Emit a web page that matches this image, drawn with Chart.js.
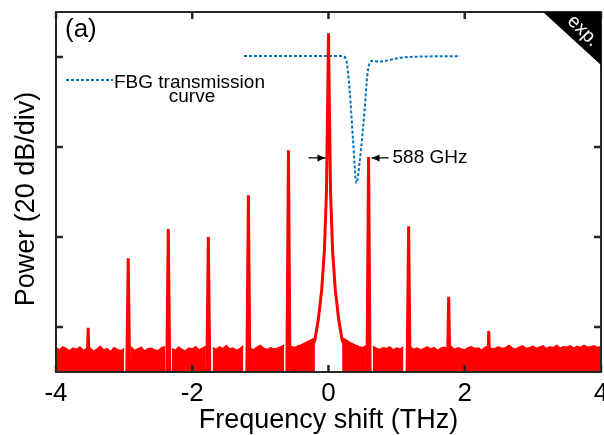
<!DOCTYPE html>
<html>
<head>
<meta charset="utf-8">
<script src="https://cdn.jsdelivr.net/npm/chart.js@4.4.0/dist/chart.umd.min.js"></script>
<style>
  html, body { margin: 0; padding: 0; background: #fff; }
</style>
</head>
<body>
<canvas id="spectrum" width="604" height="435"></canvas>
<script>
// axis ticks: frequency shift (THz) and power (dB, 20 dB per division)
const xTicks = [-4, -2, 0, 2, 4];
const yTicks = [-80, -60, -40, -20];

// comb lines, order -6..-1 and +1..+4, 588 GHz apart
const combFreq = [-3.528, -2.94, -2.352, -1.764, -1.176, -0.588, 0.588, 1.176, 1.764, 2.352];
const combPower = [-80.2, -64.7, -58.2, -60.0, -50.7, -40.7, -42.2, -57.6, -73.3, -80.9];

// central line with its skirt
const centerFreq = [-0.25, -0.2, -0.15, -0.1, -0.06, -0.03, -0.012, 0, 0.012, 0.03, 0.06, 0.1, 0.15, 0.2, 0.25];
const centerPower = [-84.7, -82.9, -78.4, -71.8, -62.9, -50.0, -30.0, -14.7, -30.0, -50.0, -62.9, -71.8, -78.4, -82.9, -84.7];

// noise floor on a 0.05 THz grid starting at -4 THz (null = gap beside a line)
const noiseStart = -4;
const noiseStep = 0.05;
const noisePower = [
  -84.6, -85.1, -84.4, -84.8, -85.3, -84.7, -85.0, -84.5, -85.2, -84.8,
  -84.7, -85.4, -84.9, -84.3, -85.1, -84.8, -85.5, -84.6, -85.0, -85.3,
  -84.8, null, -84.4, -85.2, -84.9, -84.5, -85.4, -84.8, -84.7, -85.1,
  -85.3, -84.6, -84.4, null, -84.8, -85.2, -84.5, -85.0, -85.3, -84.7,
  -84.9, -84.4, -85.1, -84.7, -84.3, null, -84.6, -85.0, -84.4, -84.8,
  -84.1, -84.9, -84.7, -85.2, -84.8, -84.2, null, -84.7, -85.1, -84.5,
  -84.1, -84.8, -85.0, -84.6, -84.9, -84.7, -84.4, -84.0, null, -84.3,
  -84.6, -84.2, -84.0, -83.6, -83.2, -82.8, -82.5, null, null, null,
  null, null, null, null, -82.4, -82.8, -83.3, -83.7, -84.1, -84.4,
  -84.6, -84.2, null, -84.3, -84.7, -85.0, -84.6, -84.8, -84.4, -85.1,
  -84.7, -84.9, -84.5, null, -84.4, -85.0, -84.7, -85.1, -84.8, -84.4,
  -84.9, -84.6, -85.2, -84.7, -84.5, -84.8, -84.3, -85.0, -84.6, -84.9,
  -85.1, -84.6, -84.4, -84.8, -84.7, -85.2, -84.5, -84.3, -84.9, -84.7,
  -84.4, -84.8, -84.6, -84.1, -84.7, -84.9, -84.5, -84.2, -84.8, -84.6,
  -84.3, -84.7, -84.5, -84.2, -84.8, -84.4, -84.6, -84.1, -84.7, -84.4,
  -84.5, -84.2, -84.7, -84.3, -84.6, -84.1, -84.5, -84.4, -84.2, -84.6, -84.3
];

// FBG transmission curve
const fbgFreq = [-1.24, 0.20, 0.26, 0.31, 0.36, 0.41, 0.46, 0.53, 0.57, 0.63, 0.75, 1.04, 1.19, 1.93];
const fbgPower = [-19.8, -19.8, -20.7, -27.3, -38.4, -48.0, -42.9, -31.8, -24.0, -20.9, -21.0, -20.2, -20.0, -19.8];

const font = 'Liberation Sans, Arial, Helvetica, sans-serif';
const red = '#ff0000';
const blue = '#0072bd';
const frameColor = '#262626';

const noiseData = noisePower.map((p, i) => ({ x: noiseStart + i * noiseStep, y: p }));

const combData = [];
combFreq.forEach((f, i) => {
    combData.push({ x: f - 0.025, y: -95 });
    combData.push({ x: f, y: combPower[i] });
    combData.push({ x: f + 0.025, y: -95 });
    combData.push({ x: f + 0.026, y: null });
});

const centerData = centerFreq.map((f, i) => ({ x: f, y: centerPower[i] }));
const fbgData = fbgFreq.map((f, i) => ({ x: f, y: fbgPower[i] }));

// frame, inward ticks, y title and the annotations
const decor = {
    id: 'decor',
    afterDatasetsDraw(chart) {
        const { ctx, chartArea: a, scales: { x, y } } = chart;
        ctx.save();

        ctx.strokeStyle = frameColor;
        ctx.lineWidth = 2.5;
        ctx.beginPath();
        xTicks.forEach(v => {
            const px = x.getPixelForValue(v);
            ctx.moveTo(px, a.bottom); ctx.lineTo(px, a.bottom - 7);
            ctx.moveTo(px, a.top); ctx.lineTo(px, a.top + 7);
        });
        yTicks.forEach(v => {
            const py = y.getPixelForValue(v);
            ctx.moveTo(a.left, py); ctx.lineTo(a.left + 7, py);
            ctx.moveTo(a.right, py); ctx.lineTo(a.right - 7, py);
        });
        ctx.stroke();
        ctx.lineWidth = 2;
        ctx.strokeRect(a.left, a.top, a.right - a.left, a.bottom - a.top);

        // y title
        ctx.save();
        ctx.fillStyle = '#000';
        ctx.font = '27px ' + font;
        ctx.textAlign = 'center';
        ctx.textBaseline = 'alphabetic';
        ctx.translate(34, 199);
        ctx.rotate(-Math.PI / 2);
        ctx.fillText('Power (20 dB/div)', 0, 0);
        ctx.restore();

        // (a)
        ctx.fillStyle = '#000';
        ctx.font = '26px ' + font;
        ctx.textAlign = 'left';
        ctx.textBaseline = 'alphabetic';
        ctx.fillText('(a)', a.left + 9, a.top + 25);

        // legend for the FBG curve
        ctx.strokeStyle = blue;
        ctx.lineWidth = 2;
        ctx.setLineDash([3, 2]);
        ctx.beginPath();
        ctx.moveTo(66, 80); ctx.lineTo(113, 80);
        ctx.stroke();
        ctx.setLineDash([]);
        ctx.font = '19px ' + font;
        ctx.fillText('FBG transmission', 114, 88);
        ctx.textAlign = 'center';
        ctx.fillText('curve', 192, 102);

        // 588 GHz spacing arrows
        const ay = y.getPixelForValue(combPower[6]) + 1;
        const x0 = x.getPixelForValue(0) - 3;
        const x1 = x.getPixelForValue(combFreq[6]) + 3;
        ctx.strokeStyle = '#000';
        ctx.fillStyle = '#000';
        ctx.lineWidth = 1.2;
        ctx.beginPath();
        ctx.moveTo(x0 - 17, ay); ctx.lineTo(x0, ay);
        ctx.moveTo(x1 + 17, ay); ctx.lineTo(x1, ay);
        ctx.stroke();
        ctx.beginPath();
        ctx.moveTo(x0, ay); ctx.lineTo(x0 - 8, ay - 3.5); ctx.lineTo(x0 - 8, ay + 3.5); ctx.closePath();
        ctx.moveTo(x1, ay); ctx.lineTo(x1 + 8, ay - 3.5); ctx.lineTo(x1 + 8, ay + 3.5); ctx.closePath();
        ctx.fill();
        ctx.textAlign = 'left';
        ctx.textBaseline = 'middle';
        ctx.font = '19px ' + font;
        ctx.fillText('588 GHz', x1 + 21, ay);

        // exp. corner
        ctx.fillStyle = '#000';
        ctx.beginPath();
        ctx.moveTo(a.right - 58, a.top);
        ctx.lineTo(a.right, a.top);
        ctx.lineTo(a.right, a.top + 53);
        ctx.closePath();
        ctx.fill();
        ctx.translate(a.right - 18, a.top + 19);
        ctx.rotate(Math.PI / 4);
        ctx.fillStyle = '#fff';
        ctx.textAlign = 'center';
        ctx.textBaseline = 'middle';
        ctx.font = '19px ' + font;
        ctx.fillText('exp.', 0, 0);

        ctx.restore();
    }
};

new Chart(document.getElementById('spectrum'), {
    type: 'line',
    data: {
        datasets: [{
            data: combData,
            borderColor: red,
            borderWidth: 3,
            pointRadius: 0,
            fill: false,
            clip: 0,
            order: 1
        }, {
            data: centerData,
            borderColor: red,
            borderWidth: 3,
            pointRadius: 0,
            fill: false,
            clip: 0,
            order: 2
        }, {
            data: noiseData,
            borderColor: red,
            backgroundColor: red,
            borderWidth: 1.5,
            pointRadius: 0,
            fill: 'start',
            clip: 0,
            order: 3
        }, {
            data: fbgData,
            borderColor: blue,
            borderWidth: 2,
            borderDash: [3, 2],
            cubicInterpolationMode: 'monotone',
            pointRadius: 0,
            fill: false,
            clip: 0,
            order: 4
        }]
    },
    options: {
        responsive: false,
        animation: false,
        layout: { padding: { top: 12, right: 3, left: 0, bottom: 0 } },
        plugins: {
            legend: { display: false },
            tooltip: { enabled: false }
        },
        scales: {
            x: {
                type: 'linear',
                min: -4,
                max: 4,
                afterBuildTicks: s => { s.ticks = xTicks.map(v => ({ value: v })); },
                afterFit: s => { s.height = 63; s.paddingLeft = 0; s.paddingRight = 0; },
                grid: { display: false, drawTicks: false },
                border: { display: false },
                ticks: {
                    color: '#000',
                    font: { family: font, size: 26 },
                    padding: 6,
                    maxRotation: 0,
                    autoSkip: false
                },
                title: {
                    display: true,
                    text: 'Frequency shift (THz)',
                    color: '#000',
                    font: { family: font, size: 27 },
                    padding: { top: 0, bottom: -2 }
                }
            },
            y: {
                type: 'linear',
                min: -90,
                max: -10,
                afterBuildTicks: s => { s.ticks = yTicks.map(v => ({ value: v })); },
                afterFit: s => { s.width = 56; s.paddingTop = 0; s.paddingBottom = 0; },
                grid: { display: false, drawTicks: false },
                border: { display: false },
                ticks: { display: false },
                title: { display: false }
            }
        }
    },
    plugins: [decor]
});
</script>
</body>
</html>
